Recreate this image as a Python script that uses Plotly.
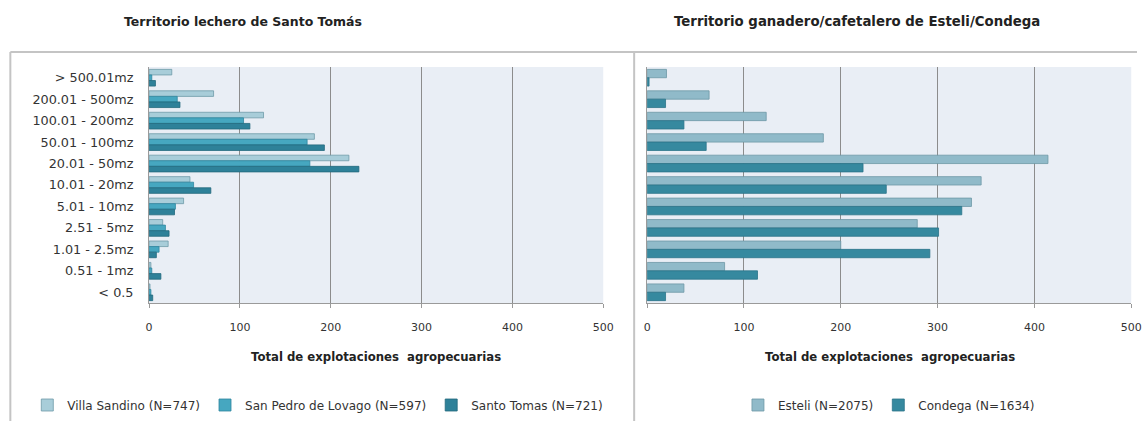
import plotly.graph_objects as go

categories = ["> 500.01mz", "200.01 - 500mz", "100.01 - 200mz", "50.01 - 100mz",
              "20.01 - 50mz", "10.01 - 20mz", "5.01 - 10mz", "2.51 - 5mz",
              "1.01 - 2.5mz", "0.51 - 1mz", "< 0.5"]

villa_sandino = [25, 71, 126, 182, 220, 45, 38, 15, 21, 2, 1]
san_pedro = [3, 31, 104, 174, 177, 49, 29, 18, 11, 3, 2]
santo_tomas = [7, 34, 111, 193, 231, 68, 28, 22, 8, 13, 4]

esteli = [20, 64, 123, 182, 414, 345, 335, 279, 200, 80, 38]
condega = [2, 19, 38, 61, 223, 247, 325, 301, 292, 114, 19]

x_ticks = [0, 100, 200, 300, 400, 500]

W, H = 1148, 421
FONT = "'DejaVu Sans', Verdana, sans-serif"
TXT = "#333333"


def px(x):
    # compensate the slight horizontal squeeze seen in the rendered picture
    return ((x - 1.65) / 0.9888) / W


def py(y):
    return 1 - y / H


fig = go.Figure()

left_series = [
    ("Villa Sandino (N=747)", villa_sandino, "#a8cdd9", "#6f9aa8"),
    ("San Pedro de Lovago (N=597)", san_pedro, "#46a7c0", "#2f87a0"),
    ("Santo Tomas (N=721)", santo_tomas, "#2e8199", "#22687c"),
]
for name, vals, col, line in left_series:
    fig.add_trace(go.Bar(
        y=categories, x=vals, name=name, orientation="h",
        marker=dict(color=col, line=dict(color=line, width=0.8)),
        xaxis="x", yaxis="y", legend="legend",
    ))

right_series = [
    ("Esteli (N=2075)", esteli, "#90bac9", "#6d98a6"),
    ("Condega (N=1634)", condega, "#36899f", "#2b7389"),
]
for name, vals, col, line in right_series:
    fig.add_trace(go.Bar(
        y=categories, x=vals, name=name, orientation="h",
        marker=dict(color=col, line=dict(color=line, width=0.8)),
        xaxis="x2", yaxis="y2", legend="legend2",
    ))

ydom = [py(303), py(67)]
common_x = dict(
    range=[0, 500], tickvals=x_ticks, showgrid=True, gridcolor="#8c8c8c",
    gridwidth=1.2, zeroline=False, showline=True, linecolor="#9a9a9a",
    linewidth=1, ticks="outside", ticklen=4, tickcolor="#9a9a9a",
    tickfont=dict(family=FONT, size=11, color=TXT),
    ticklabelstandoff=10, fixedrange=True,
)
common_y = dict(
    categoryorder="array", categoryarray=categories, autorange="reversed",
    showline=True, linecolor="#9a9a9a", linewidth=1, showgrid=False,
    ticks="", fixedrange=True,
)

legend_font = dict(family=FONT, size=12, color=TXT)

fig.update_layout(
    autosize=True,
    height=H,
    margin=dict(l=0, r=0, t=0, b=0),
    paper_bgcolor="white",
    plot_bgcolor="#e9eef5",
    barmode="group",
    bargap=0.22,
    font=dict(family=FONT, size=12, color=TXT),
    xaxis=dict(domain=[px(147), px(602)], anchor="y", **common_x),
    yaxis=dict(domain=ydom, anchor="x",
               tickfont=dict(family=FONT, size=12.8, color=TXT),
               ticklabelstandoff=12, **common_y),
    xaxis2=dict(domain=[px(646), px(1131)], anchor="y2", **common_x),
    yaxis2=dict(domain=ydom, anchor="x2", showticklabels=False, **common_y),
    legend=dict(orientation="h", x=px(25), y=py(405), yanchor="middle",
                xanchor="left", font=legend_font,
                bgcolor="rgba(0,0,0,0)", itemwidth=30, tracegroupgap=0),
    legend2=dict(orientation="h", x=px(737), y=py(405), yanchor="middle",
                 xanchor="left", font=legend_font,
                 bgcolor="rgba(0,0,0,0)", itemwidth=30, tracegroupgap=0),
    showlegend=True,
)

annotations = [
    dict(text="<b>Territorio lechero de Santo Tomás</b>", x=px(241), y=py(22), size=12.5),
    dict(text="<b>Territorio ganadero/cafetalero de Esteli/Condega</b>", x=px(856), y=py(22), size=13.3),
    dict(text="<b>Total de explotaciones  agropecuarias</b>", x=px(374), y=py(357), size=11.7),
    dict(text="<b>Total de explotaciones  agropecuarias</b>", x=px(889), y=py(357), size=11.7),
]
for a in annotations:
    size = a.pop("size")
    fig.add_annotation(xref="paper", yref="paper", showarrow=False,
                       xanchor="center", yanchor="middle",
                       font=dict(family=FONT, size=size, color="#222222"), **a)

frame = "#c4c4c4"
fig.add_shape(type="line", xref="paper", yref="paper",
              x0=px(8), x1=1, y0=py(52), y1=py(52), line=dict(color=frame, width=2))
fig.add_shape(type="line", xref="paper", yref="paper",
              x0=px(8), x1=px(8), y0=py(52), y1=0, line=dict(color=frame, width=2))
fig.add_shape(type="line", xref="paper", yref="paper",
              x0=px(633), x1=px(633), y0=py(52), y1=0, line=dict(color=frame, width=2))

fig.write_html(
    "out.html",
    default_width="100%",
    default_height="421px",
    config={"displayModeBar": False, "responsive": True},
    post_script=("document.documentElement.style.margin='0';"
                 "document.body.style.margin='0';"
                 "document.body.style.overflow='hidden';"
                 "document.documentElement.style.overflow='hidden';"
                 "Plotly.Plots.resize(document.getElementById('{plot_id}'));"),
)
